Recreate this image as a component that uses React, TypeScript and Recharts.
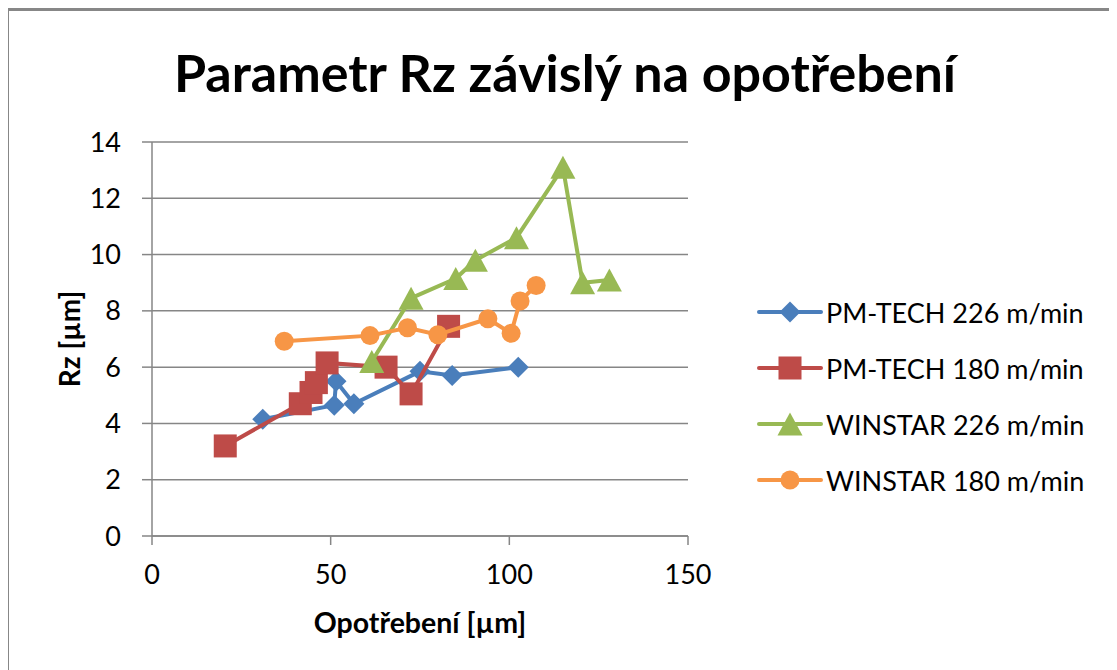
import React from 'react';
import { ScatterChart, Scatter, XAxis, YAxis, CartesianGrid, Legend } from 'recharts';

const pmTech226X = [31, 51, 51.5, 56.5, 75, 84, 102.5];
const pmTech226Y = [4.15, 4.65, 5.5, 4.7, 5.85, 5.7, 6.0];

const pmTech180X = [20.5, 41.5, 44.5, 46, 49, 65.5, 72.5, 83];
const pmTech180Y = [3.2, 4.7, 5.1, 5.45, 6.15, 6.0, 5.05, 7.45];

const winstar226X = [61.5, 72.5, 85, 90.5, 102, 115, 120.5, 128];
const winstar226Y = [6.2, 8.45, 9.15, 9.8, 10.6, 13.1, 9.0, 9.1];

const winstar180X = [37, 61, 71.5, 80, 94, 100.5, 103, 107.5];
const winstar180Y = [6.92, 7.12, 7.4, 7.15, 7.72, 7.2, 8.35, 8.9];

const seriesNames = ['PM-TECH 226 m/min', 'PM-TECH 180 m/min', 'WINSTAR 226 m/min', 'WINSTAR 180 m/min'];
const seriesColors = ['#4A7EBB', '#BE4B48', '#98B954', '#F79646'];
const seriesShapes = ['diamond', 'square', 'triangle', 'circle'];

const xTicks = [0, 50, 100, 150];
const yTicks = [0, 2, 4, 6, 8, 10, 12, 14];

const titleText = 'Parametr Rz závislý na opotřebení';
const xTitle = 'Opotřebení [µm]';
const yTitle = 'Rz [µm]';

const toPoints = (xs: number[], ys: number[]) => xs.map((x, i) => ({ x, y: ys[i] }));

const FONT = 'Lato, "Open Sans", sans-serif';

function Marker({ kind, cx, cy, color }: { kind: string; cx: number; cy: number; color: string }) {
  if (kind === 'diamond') {
    const r = 10.5;
    return <polygon points={`${cx},${cy - r} ${cx + r},${cy} ${cx},${cy + r} ${cx - r},${cy}`} fill={color} />;
  }
  if (kind === 'square') {
    const s = 11.5;
    return <rect x={cx - s} y={cy - s} width={s * 2} height={s * 2} fill={color} />;
  }
  if (kind === 'triangle') {
    const w = 12.5;
    const h = 11.5;
    return <polygon points={`${cx},${cy - h} ${cx + w},${cy + h} ${cx - w},${cy + h}`} fill={color} />;
  }
  return <circle cx={cx} cy={cy} r={9.5} fill={color} />;
}

const makeShape = (kind: string, color: string) => (props: any) => {
  const { cx, cy } = props;
  if (cx == null || cy == null) return <g />;
  return <Marker kind={kind} cx={cx} cy={cy} color={color} />;
};

function LegendContent() {
  return (
    <div style={{ fontFamily: FONT, fontSize: 27, color: '#000' }}>
      {seriesNames.map((name, i) => (
        <div key={name} style={{ display: 'flex', alignItems: 'center', height: 56 }}>
          <svg width={66} height={30} style={{ display: 'block' }}>
            <line x1={2} y1={15} x2={64} y2={15} stroke={seriesColors[i]} strokeWidth={4} strokeLinecap="round" />
            <Marker kind={seriesShapes[i]} cx={33} cy={15} color={seriesColors[i]} />
          </svg>
          <span style={{ marginLeft: 3, whiteSpace: 'nowrap' }}>{name}</span>
        </div>
      ))}
    </div>
  );
}

function YTitle(props: any) {
  const vb = props.viewBox || {};
  const cx = 61;
  const cy = (vb.y ?? 134) + (vb.height ?? 394) / 2;
  return (
    <text x={cx} y={cy} transform={`rotate(-90 ${cx} ${cy})`} textAnchor="middle" dominantBaseline="central"
      style={{ fontFamily: FONT, fontSize: 28, fontWeight: 700, fill: '#000' }}>
      {yTitle}
    </text>
  );
}

function XTitle(props: any) {
  const vb = props.viewBox || {};
  const cx = (vb.x ?? 144) + (vb.width ?? 536) / 2;
  const cy = 614;
  return (
    <text x={cx} y={cy} textAnchor="middle" dominantBaseline="central"
      style={{ fontFamily: FONT, fontSize: 28.5, fontWeight: 700, fill: '#000' }}>
      {xTitle}
    </text>
  );
}

export default function App() {
  const data = [
    toPoints(pmTech226X, pmTech226Y),
    toPoints(pmTech180X, pmTech180Y),
    toPoints(winstar226X, winstar226Y),
    toPoints(winstar180X, winstar180Y),
  ];
  return (
    <div style={{ position: 'relative', width: 1111, height: 662, overflow: 'hidden', marginLeft: -2, background: '#fff' }}>
      <div style={{ position: 'absolute', left: 2, top: 0 }}>
        <ScatterChart width={1109} height={662} margin={{ top: 134, right: 429, bottom: 54, left: 0 }}>
          <text x={557} y={84} textAnchor="middle"
            style={{ fontFamily: FONT, fontSize: 52, fontWeight: 700, fill: '#000' }}>
            {titleText}
          </text>
          <CartesianGrid horizontal vertical={false} stroke="#868686" strokeWidth={1.5} />
          <XAxis type="number" dataKey="x" domain={[0, 150]} ticks={xTicks} height={80}
            axisLine={{ stroke: '#868686', strokeWidth: 1.5 }} tickLine={{ stroke: '#868686', strokeWidth: 1.5 }}
            tickSize={9} tickMargin={20}
            tick={{ fill: '#000', fontSize: 27, fontFamily: FONT }}
            label={<XTitle />} />
          <YAxis type="number" dataKey="y" domain={[0, 14]} ticks={yTicks} width={144}
            axisLine={{ stroke: '#868686', strokeWidth: 1.5 }} tickLine={{ stroke: '#868686', strokeWidth: 1.5 }}
            tickSize={10} tickMargin={21}
            tick={{ fill: '#000', fontSize: 27, fontFamily: FONT }}
            label={<YTitle />} />
          <Legend layout="vertical" align="center" verticalAlign="middle"
            wrapperStyle={{ left: 749, top: 276, width: 360 }}
            content={<LegendContent />} />
          {data.map((pts, i) => (
            <Scatter key={seriesNames[i]} name={seriesNames[i]} data={pts} fill={seriesColors[i]}
              line={{ stroke: seriesColors[i], strokeWidth: 4 }} lineType="joint"
              shape={makeShape(seriesShapes[i], seriesColors[i])} isAnimationActive={false} />
          ))}
        </ScatterChart>
      </div>
      <div style={{ position: 'absolute', left: 0, top: 0, width: '100%', height: 3, background: '#878787' }} />
      <div style={{ position: 'absolute', left: 0, top: 0, width: 3, height: '100%', background: '#878787' }} />
    </div>
  );
}
